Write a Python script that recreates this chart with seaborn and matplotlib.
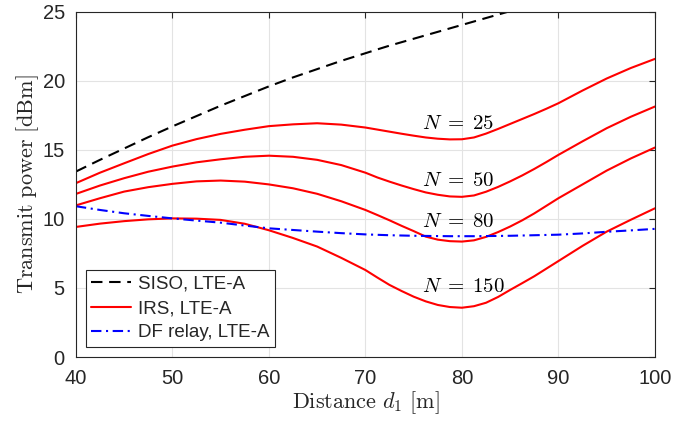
import numpy as np
import matplotlib
matplotlib.use("Agg")
import matplotlib.pyplot as plt
import seaborn as sns
from matplotlib.lines import Line2D

# =========================
# 1. DATOS
# =========================
# paso 2.5 m, y paso 1.25 m entre 70 y 90 m (zona de los minimos)
distance = [40, 42.5, 45, 47.5, 50, 52.5, 55, 57.5, 60, 62.5, 65, 67.5,
            70, 71.25, 72.5, 73.75, 75, 76.25, 77.5, 78.75, 80, 81.25,
            82.5, 83.75, 85, 86.25, 87.5, 88.75, 90, 92.5, 95, 97.5, 100]

siso = [13.43, 14.28, 15.1, 15.92, 16.7, 17.45, 18.2, 18.9, 19.6, 20.25,
        20.85, 21.45,
        22.0, 22.28, 22.55, 22.8, 23.05, 23.3, 23.55, 23.8, 24.05, 24.3,
        24.55, 24.8, 25.05, 25.28, 25.5, 25.73, 25.95, 26.4, 26.8, 27.2, 27.6]

irs_n25 = [12.59, 13.35, 14.03, 14.7, 15.31, 15.78, 16.16, 16.46, 16.72,
           16.85, 16.93, 16.83,
           16.62, 16.47, 16.32, 16.17, 16.03, 15.9, 15.81, 15.76, 15.77, 15.9,
           16.18, 16.52, 16.88, 17.24, 17.6, 17.98, 18.38, 19.3, 20.17, 20.93,
           21.59]

irs_n50 = [11.81, 12.42, 12.95, 13.42, 13.79, 14.1, 14.32, 14.5, 14.58, 14.5,
           14.28, 13.9,
           13.35, 13.0, 12.7, 12.42, 12.16, 11.92, 11.75, 11.63, 11.6, 11.7,
           11.97, 12.32, 12.72, 13.15, 13.62, 14.12, 14.64, 15.62, 16.57, 17.4,
           18.14]

irs_n80 = [10.98, 11.5, 11.98, 12.3, 12.54, 12.72, 12.78, 12.7, 12.5, 12.22,
           11.82, 11.28,
           10.65, 10.28, 9.9, 9.5, 9.12, 8.72, 8.5, 8.39, 8.36, 8.45,
           8.7, 9.05, 9.45, 9.9, 10.4, 10.95, 11.5, 12.5, 13.5, 14.38, 15.17]

irs_n150 = [9.42, 9.66, 9.84, 9.97, 10.04, 10.02, 9.93, 9.65, 9.18, 8.62,
            8.0, 7.18,
            6.3, 5.75, 5.22, 4.78, 4.37, 4.03, 3.77, 3.62, 3.57, 3.68,
            3.93, 4.35, 4.86, 5.35, 5.85, 6.4, 6.95, 8.05, 9.08, 9.94, 10.77]

df_relay = [10.92, 10.65, 10.41, 10.22, 10.04, 9.88, 9.73, 9.52, 9.32, 9.2,
            9.08, 8.97,
            8.88, 8.85, 8.82, 8.8, 8.78, 8.77, 8.76, 8.75, 8.75, 8.75,
            8.76, 8.77, 8.78, 8.8, 8.82, 8.84, 8.86, 8.95, 9.07, 9.17, 9.28]

n_labels = [r"$N\;=\;25$", r"$N\;=\;50$", r"$N\;=\;80$", r"$N\;=\;150$"]
n_label_y = [16.9, 12.8, 9.8, 5.1]
n_label_x = 75.9

irs_curves = [irs_n25, irs_n50, irs_n80, irs_n150]

# =========================
# 2. ESTILO (tipo MATLAB)
# =========================
sns.set_style("white")
plt.rcParams["font.family"] = ["Liberation Sans", "DejaVu Sans"]
plt.rcParams["mathtext.fontset"] = "cm"

dark = "#262626"
siso_dash = (5.5, 3.2)
df_dash = (5, 2.2, 1, 2.2)

fig, ax = plt.subplots(figsize=(6.96, 4.22), dpi=100)
fig.subplots_adjust(left=0.109, right=0.941, bottom=0.154, top=0.972)

# =========================
# 3. CURVAS
# =========================
sns.lineplot(x=distance, y=siso, ax=ax, color="black", linewidth=1.5)
ax.lines[-1].set_dashes(siso_dash)

for curve in irs_curves:
    sns.lineplot(x=distance, y=curve, ax=ax, color="red", linewidth=1.5)

sns.lineplot(x=distance, y=df_relay, ax=ax, color="blue", linewidth=1.5)
ax.lines[-1].set_dashes(df_dash)

# etiquetas N
for lab, yy in zip(n_labels, n_label_y):
    ax.text(n_label_x, yy, lab, fontsize=15, color="black",
            ha="left", va="center")

# =========================
# 4. EJES
# =========================
ax.set_xlim(40, 100)
ax.set_ylim(0, 25)
ax.set_xticks(np.arange(40, 101, 10))
ax.set_yticks(np.arange(0, 26, 5))
ax.grid(True, color="#e3e3e3", linewidth=0.8)
ax.set_axisbelow(True)

for spine in ax.spines.values():
    spine.set_color(dark)
    spine.set_linewidth(0.8)

ax.tick_params(direction="in", length=4, width=0.8, colors=dark,
               labelsize=14.5, top=True, right=True)
ax.tick_params(axis="x", pad=8.5)
ax.tick_params(axis="y", pad=8)

ax.set_xlabel(r"$\mathrm{Distance}\ d_1\ [\mathrm{m}]$", fontsize=16,
              color=dark, labelpad=1)
ax.set_ylabel(r"$\mathrm{Transmit\ power\ [dBm]}$", fontsize=16,
              color=dark, labelpad=1)

# leyenda
siso_h = Line2D([], [], color="black", linewidth=1.5, dashes=siso_dash)
irs_h = Line2D([], [], color="red", linewidth=1.5)
df_h = Line2D([], [], color="blue", linewidth=1.5, dashes=df_dash)
leg = ax.legend(handles=[siso_h, irs_h, df_h],
                labels=["SISO, LTE-A", "IRS, LTE-A", "DF relay, LTE-A"],
                loc="lower left", bbox_to_anchor=(0.017, 0.029),
                borderaxespad=0, fontsize=13.5, frameon=True, fancybox=False,
                handlelength=2.1, handletextpad=0.4, labelspacing=0.38,
                borderpad=0.3)
leg.get_frame().set_edgecolor(dark)
leg.get_frame().set_linewidth(0.8)
leg.get_frame().set_alpha(1)

plt.savefig("out.png", dpi=100)
